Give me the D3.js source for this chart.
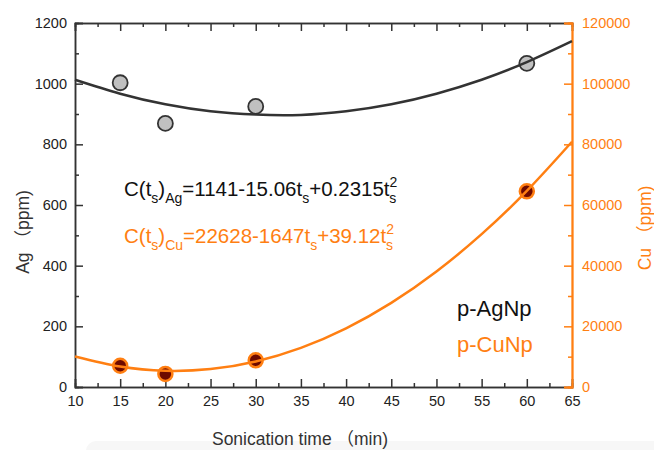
<!DOCTYPE html>
<html>
<head>
<meta charset="utf-8">
<script src="https://d3js.org/d3.v7.min.js"></script>
<style>
  body { margin: 0; background: #fff; }
  svg { font-family: "Liberation Sans", Arial, "Noto Sans CJK SC", sans-serif; }
</style>
</head>
<body>
<div id="chart"></div>
<script>
// measured points
const times = [15, 20, 30, 60]
const agValues = [1003, 869, 925, 1067]
const cuValues = [7000, 4300, 8800, 64500]

// fitted curves, read every 5 min
const fitTimes = [10, 15, 20, 25, 30, 35, 40, 45, 50, 55, 60, 65]
const agFit = [1013, 967, 932, 909, 898, 897, 909, 932, 967, 1013, 1071, 1140]
const cuFit = [10070, 6725, 5336, 5903, 8426, 12905, 19340, 27731, 38078, 50381, 64640, 80855]

const xTicks = [10, 15, 20, 25, 30, 35, 40, 45, 50, 55, 60, 65]
const agTicks = [0, 200, 400, 600, 800, 1000, 1200]
const cuTicks = [0, 20000, 40000, 60000, 80000, 100000, 120000]

const w = 654, h = 450
const m = { top: 23, right: 82, bottom: 63, left: 75 }
const orange = '#ff7f12'
const dark = '#333'

const svg = d3.select('#chart').append('svg')
    .attr('width', w)
    .attr('height', h)

// faint page band at the bottom
svg.append('rect')
    .attr('x', 86).attr('y', 441)
    .attr('width', 600).attr('height', 40)
    .attr('rx', 10)
    .attr('fill', '#f7f7f7')

const x = d3.scaleLinear().domain([10, 65]).range([m.left, w - m.right])
const yAg = d3.scaleLinear().domain([0, 1200]).range([h - m.bottom, m.top])
const yCu = d3.scaleLinear().domain([0, 120000]).range([h - m.bottom, m.top])

const minorX = d3.range(12.5, 65, 5)
const minorAg = d3.range(100, 1200, 200)
const minorCu = d3.range(10000, 120000, 20000)
const fmt = d3.format('d')

// bottom axis
const gx = svg.append('g')
    .attr('transform', `translate(0,${h - m.bottom})`)
    .call(d3.axisBottom(x).tickValues(xTicks).tickSize(-8).tickPadding(9).tickFormat(fmt))
gx.append('g').call(d3.axisBottom(x).tickValues(minorX).tickSize(-4).tickFormat(''))

// top axis
const gt = svg.append('g')
    .attr('transform', `translate(0,${m.top})`)
    .call(d3.axisTop(x).tickValues(xTicks).tickSize(-8).tickFormat(''))
gt.append('g').call(d3.axisTop(x).tickValues(minorX).tickSize(-4).tickFormat(''))

// left axis
const gl = svg.append('g')
    .attr('transform', `translate(${m.left},0)`)
    .call(d3.axisLeft(yAg).tickValues(agTicks).tickSize(-8).tickPadding(8).tickFormat(fmt))
gl.append('g').call(d3.axisLeft(yAg).tickValues(minorAg).tickSize(-4).tickFormat(''))

// right axis
const gr = svg.append('g')
    .attr('transform', `translate(${w - m.right},0)`)
    .call(d3.axisRight(yCu).tickValues(cuTicks).tickSize(-8).tickPadding(10).tickFormat(fmt))
gr.append('g').call(d3.axisRight(yCu).tickValues(minorCu).tickSize(-4).tickFormat(''))

svg.selectAll('.domain').attr('stroke', dark).attr('stroke-width', 1.5)
svg.selectAll('.tick line').attr('stroke', dark).attr('stroke-width', 1.5)
svg.selectAll('.tick text').attr('fill', '#222').style('font-size', '14.5px')
gr.selectAll('.domain').attr('stroke', orange).attr('stroke-width', 1.8)
gr.selectAll('.tick line').attr('stroke', orange)
gr.selectAll('.tick text').attr('fill', orange)

// markers
svg.append('g').selectAll('circle')
    .data(times)
    .join('circle')
    .attr('cx', d => x(d))
    .attr('cy', (d, i) => yAg(agValues[i]))
    .attr('r', 7.5)
    .attr('fill', '#c0c0c0')
    .attr('stroke', dark)
    .attr('stroke-width', 1.8)

svg.append('g').selectAll('circle')
    .data(times)
    .join('circle')
    .attr('cx', d => x(d))
    .attr('cy', (d, i) => yCu(cuValues[i]))
    .attr('r', 7)
    .attr('fill', '#6e0a00')
    .attr('stroke', orange)
    .attr('stroke-width', 2.5)

// fit curves
const agLine = d3.line().x(d => x(d)).y((d, i) => yAg(agFit[i])).curve(d3.curveNatural)
const cuLine = d3.line().x(d => x(d)).y((d, i) => yCu(cuFit[i])).curve(d3.curveNatural)

svg.append('path')
    .attr('d', agLine(fitTimes))
    .attr('fill', 'none')
    .attr('stroke', dark)
    .attr('stroke-width', 2.5)

svg.append('path')
    .attr('d', cuLine(fitTimes))
    .attr('fill', 'none')
    .attr('stroke', orange)
    .attr('stroke-width', 2.5)

// equations
function equation(y, color, sub, body1, body2) {
    const t = svg.append('text')
        .attr('x', 124).attr('y', y)
        .style('font-size', '20.5px')
        .attr('fill', color)
    t.append('tspan').text('C(t')
    t.append('tspan').text('s').attr('dy', 7).style('font-size', '14px')
    t.append('tspan').text(')').attr('dy', -7)
    t.append('tspan').text(sub).attr('dy', 7).style('font-size', '14px')
    t.append('tspan').text(body1).attr('dy', -7)
    t.append('tspan').text('s').attr('dy', 7).style('font-size', '14px')
    t.append('tspan').text(body2).attr('dy', -7)
    t.append('tspan').text('2').attr('dy', -9).style('font-size', '14px')
    t.append('tspan').text('s').attr('dx', -8).attr('dy', 16).style('font-size', '14px')
}
equation(196, '#111', 'Ag', '=1141-15.06t', '+0.2315t')
equation(243, orange, 'Cu', '=22628-1647t', '+39.12t')

// legend labels
svg.append('text')
    .attr('x', 457).attr('y', 316)
    .style('font-size', '22px')
    .attr('fill', '#111')
    .text('p-AgNp')
svg.append('text')
    .attr('x', 457).attr('y', 352)
    .style('font-size', '22px')
    .attr('fill', orange)
    .text('p-CuNp')

// axis titles
svg.append('text')
    .attr('transform', 'translate(29,232) rotate(-90)')
    .attr('text-anchor', 'middle')
    .style('font-size', '17.5px')
    .attr('fill', dark)
    .text('Ag （ppm)')
svg.append('text')
    .attr('transform', 'translate(651,228) rotate(-90)')
    .attr('text-anchor', 'middle')
    .style('font-size', '17.5px')
    .attr('fill', orange)
    .text('Cu （ppm)')
svg.append('text')
    .attr('x', 300).attr('y', 445)
    .attr('text-anchor', 'middle')
    .style('font-size', '17.5px')
    .attr('fill', dark)
    .text('Sonication time （min)')
</script>
</body>
</html>
